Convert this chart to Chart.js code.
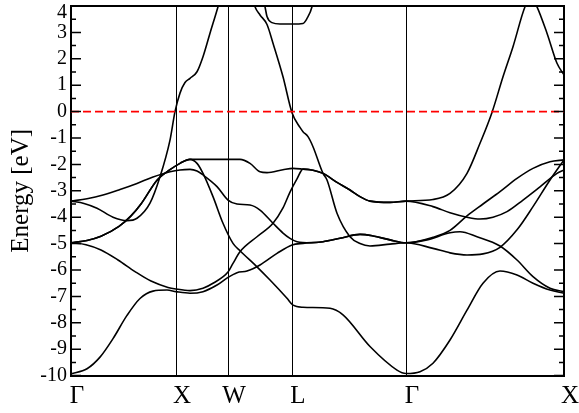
<!DOCTYPE html>
<html>
<head>
<meta charset="utf-8">
<script src="https://cdn.jsdelivr.net/npm/chart.js@4.4.0/dist/chart.umd.min.js"></script>
<style>
  html, body { margin: 0; padding: 0; background: #fff; }
  #wrap { width: 579px; height: 413px; }
</style>
</head>
<body>
<div id="wrap"><canvas id="bands" width="579" height="413"></canvas></div>
<script>
// k-path: high-symmetry points (path length in plot units) and their labels
const kPoints = [0, 105, 157, 221, 335, 493];
const kLabels = ['Γ', 'X', 'W', 'L', 'Γ', 'X'];
const energyMin = -10;
const energyMax = 4;
const minorStep = 0.5;

// Fermi level
const fermiK = [0, 493];
const fermiE = [0, 0];

// bands
const band1K = [0, 16, 29, 42, 56, 69, 82, 96, 105, 119, 132, 146, 157, 166, 176, 189, 206, 221, 232, 252, 269, 289, 302, 319, 335, 356, 379, 389, 406, 429, 446, 462, 479, 493];
const band1E = [-9.93, -9.74, -9.3, -8.6, -7.72, -7.08, -6.8, -6.76, -6.82, -6.88, -6.82, -6.57, -6.28, -6.1, -6.04, -5.81, -5.37, -5.05, -4.99, -4.93, -4.80, -4.65, -4.71, -4.86, -4.97, -4.86, -4.59, -4.55, -4.74, -5.09, -5.62, -6.25, -6.69, -6.82];

const band2K = [0, 15, 30, 47, 64, 80, 97, 105, 119, 132, 142, 157, 162, 169, 186, 202, 212, 219, 226, 232, 242, 252, 266, 279, 289, 299, 319, 335, 362, 379, 396, 409, 422, 436, 452, 469, 486, 493];
const band2E = [-4.97, -5.04, -5.24, -5.62, -6.06, -6.42, -6.66, -6.72, -6.78, -6.69, -6.5, -6.08, -5.75, -5.31, -4.74, -4.23, -3.65, -3.05, -2.55, -2.18, -2.22, -2.34, -2.68, -2.97, -3.22, -3.39, -3.44, -3.39, -3.6, -3.83, -4.0, -4.07, -4.0, -3.79, -3.35, -2.85, -2.34, -2.21];

const band3K = [0, 16, 30, 48, 60, 70, 86, 99, 109, 119, 140, 169, 179, 189, 196, 212, 222, 232, 242, 252, 266, 279, 289, 299, 319, 335, 362, 379, 396, 409, 421, 432, 442, 454, 460, 466, 476, 486, 493];
const band3E = [-4.97, -4.88, -4.72, -4.35, -3.95, -3.5, -2.6, -2.2, -1.96, -1.81, -1.81, -1.81, -1.96, -2.28, -2.31, -2.2, -2.15, -2.18, -2.22, -2.34, -2.68, -2.97, -3.22, -3.39, -3.44, -3.39, -3.33, -3.1, -2.34, -1.2, -0.03, 1.32, 2.46, 3.97, 4.35, 3.97, 2.97, 1.83, 1.39];

const band4K = [0, 16, 30, 48, 60, 70, 86, 99, 109, 119, 126, 132, 142, 152, 162, 169, 186, 199, 216, 222, 232, 259, 272, 299, 326, 335, 349, 362, 379, 396, 412, 429, 446, 462, 479, 493];
const band4E = [-4.97, -4.88, -4.72, -4.35, -3.95, -3.5, -2.6, -2.2, -1.96, -1.81, -1.96, -2.34, -3.22, -4.23, -4.99, -5.27, -5.88, -6.38, -7.07, -7.33, -7.41, -7.45, -7.70, -8.9, -9.79, -9.92, -9.85, -9.53, -8.65, -7.52, -6.5, -6.04, -6.19, -6.5, -6.76, -6.88];

const band5K = [0, 16, 32, 49, 66, 82, 99, 109, 119, 126, 132, 146, 157, 166, 179, 189, 202, 212, 219, 226, 240, 252, 269, 289, 302, 319, 335, 362, 379, 396, 412, 429, 446, 462, 479, 493];
const band5E = [-3.39, -3.3, -3.16, -2.95, -2.72, -2.48, -2.28, -2.21, -2.19, -2.25, -2.4, -2.84, -3.35, -3.5, -3.54, -3.73, -4.23, -4.6, -4.8, -4.93, -4.97, -4.93, -4.80, -4.65, -4.71, -4.86, -4.97, -4.76, -4.5, -3.95, -3.5, -3.03, -2.53, -2.15, -1.9, -1.83];

const band6K = [0, 13, 26, 42, 56, 66, 79, 89, 99, 104, 109, 114, 119, 126, 132, 139, 147, 150];
const band6E = [-3.39, -3.48, -3.66, -4.0, -4.13, -4.04, -3.47, -2.47, -1.08, 0, 0.7, 1.1, 1.26, 1.51, 2.08, 2.97, 3.97, 4.4];

const band7K = [181, 184, 189, 196, 202, 212, 221, 229, 232, 237, 242, 252, 256, 266, 279, 289, 299, 319, 335, 362, 379, 396, 412, 429, 446, 462, 479, 493];
const band7E = [4.4, 3.97, 3.66, 3.3, 2.59, 1.32, -0.04, -0.6, -0.76, -0.95, -1.33, -2.34, -2.59, -3.85, -4.74, -5.0, -5.09, -5.02, -4.97, -5.18, -5.35, -5.43, -5.39, -5.14, -4.48, -3.6, -2.59, -1.83];

const band8K = [191, 194, 196, 201, 209, 222, 232, 236, 241, 243];
const band8E = [4.4, 3.97, 3.6, 3.37, 3.32, 3.32, 3.34, 3.53, 3.97, 4.4];

const serif = 'Liberation Serif';
const toPoints = (ks, es) => ks.map((k, i) => ({ x: k, y: es[i] }));

const bandSets = [
  [band1K, band1E], [band2K, band2E], [band3K, band3E], [band4K, band4E],
  [band5K, band5E], [band6K, band6E], [band7K, band7E], [band8K, band8E]
].map(([ks, es]) => ({
  data: toPoints(ks, es),
  borderColor: '#000',
  borderWidth: 1.6,
  pointRadius: 0,
  cubicInterpolationMode: 'monotone',
  fill: false
}));

const fermiSet = {
  data: toPoints(fermiK, fermiE),
  borderColor: '#ff0000',
  borderWidth: 1.8,
  borderDash: [8, 4],
  pointRadius: 0,
  tension: 0,
  fill: false
};

// inward major/minor ticks on both sides, plus the top label nudged inside
const frameTicks = {
  id: 'frameTicks',
  afterDraw(chart) {
    const { ctx, chartArea: a } = chart;
    const y = chart.scales.y;
    ctx.save();
    ctx.strokeStyle = '#000';
    ctx.lineWidth = 1.5;
    ctx.beginPath();
    for (let v = energyMin; v <= energyMax; v += minorStep) {
      const py = y.getPixelForValue(v);
      const len = Number.isInteger(v) ? 10 : 5;
      ctx.moveTo(a.left, py); ctx.lineTo(a.left + len, py);
      ctx.moveTo(a.right, py); ctx.lineTo(a.right - len, py);
    }
    ctx.stroke();
    ctx.fillStyle = '#000';
    ctx.font = `20px "${serif}"`;
    ctx.textAlign = 'right';
    ctx.textBaseline = 'middle';
    ctx.fillText(String(energyMax), y.right - 4, a.top + 7);
    ctx.restore();
  }
};

new Chart(document.getElementById('bands'), {
  type: 'line',
  data: { datasets: [fermiSet, ...bandSets] },
  options: {
    responsive: false,
    maintainAspectRatio: false,
    devicePixelRatio: 1,
    animation: false,
    layout: { padding: 0 },
    plugins: { legend: { display: false }, tooltip: { enabled: false } },
    scales: {
      x: {
        type: 'linear', min: 0, max: 493,
        afterBuildTicks: s => { s.ticks = kPoints.map(v => ({ value: v })); },
        afterFit: s => { s.height = 37.4; s.paddingLeft = 0; s.paddingRight = 0; },
        ticks: {
          autoSkip: false, maxRotation: 0, padding: 6, labelOffset: 6, color: '#000',
          font: { family: serif, size: 25 },
          callback: (v, i) => kLabels[i]
        },
        grid: { color: '#000', lineWidth: 1, drawTicks: false },
        border: { color: '#000', width: 2 }
      },
      x2: {
        type: 'linear', position: 'top', min: 0, max: 493,
        ticks: { display: false },
        grid: { display: false, drawTicks: false },
        border: { color: '#000', width: 2 },
        afterFit: s => { s.height = 6; }
      },
      y: {
        min: energyMin, max: energyMax,
        afterFit: s => { s.width = 71; s.paddingTop = 0; s.paddingBottom = 0; },
        ticks: {
          stepSize: 1, autoSkip: false, padding: 4, color: '#000',
          font: { family: serif, size: 20 },
          callback: v => (v === energyMax ? '' : String(v))
        },
        grid: { display: false, drawTicks: false },
        border: { color: '#000', width: 2 },
        title: {
          display: true, text: 'Energy [eV]', color: '#000',
          font: { family: serif, size: 25 },
          padding: { top: 6, bottom: 0 }
        }
      },
      y2: {
        position: 'right', min: energyMin, max: energyMax,
        ticks: { display: false },
        grid: { display: false, drawTicks: false },
        border: { color: '#000', width: 2 },
        afterFit: s => { s.width = 15; s.paddingTop = 0; s.paddingBottom = 0; }
      }
    }
  },
  plugins: [frameTicks]
});
</script>
</body>
</html>
